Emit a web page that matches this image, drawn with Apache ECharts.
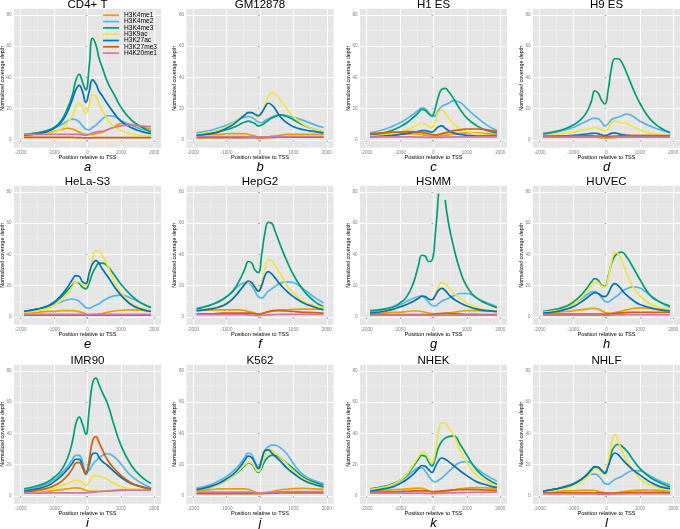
<!DOCTYPE html>
<html><head><meta charset="utf-8">
<script src="https://cdn.jsdelivr.net/npm/echarts@6/dist/echarts.min.js"></script>
<style>html,body{margin:0;padding:0;background:#fff}#c{width:680px;height:529px}</style>
</head><body><div id="c"></div>
<script>
// ---------- DATA ----------
const positions = [-1900,-1500,-1200,-1000,-800,-600,-450,-350,-250,-150,-50,50,150,250,350,450,600,800,1000,1300,1600,1900];
const marks = ['H3K4me1','H3K4me2','H3K4me3','H3K9ac','H3K27ac','H3K27me3','H4K20me1'];
const cellTitles = ['CD4+ T','GM12878','H1 ES','H9 ES','HeLa-S3','HepG2','HSMM','HUVEC','IMR90','K562','NHEK','NHLF'];
const panelLetters = ['a','b','c','d','e','f','g','h','i','j','k','l'];
const xTicks = [-2000,-1000,0,1000,2000];
const xMinorTicks = [-1500,-500,500,1500];
const yTicks = [0,20,40,60,80];
const yMinorTicks = [10,30,50,70];

// a: CD4+ T
const a_k4me1 = [2.5,3.5,4.5,5.5,6.5,7.5,7,6,5,4,3.5,3.5,3.5,4,4.5,5,6.5,8.5,10.5,10,8.5,7];
const a_k4me2 = [3.5,4.5,6,7.5,9.5,12,13.3,13,11.5,9,7,6.5,8,9.5,11.5,13.5,15.5,15,12.5,9.5,7,5.5];
const a_k4me3 = [3.5,4.5,6,8,12,20,29,38,42,37,32,47,65,61,52,46,37,29,21,13,8.5,5.3];
const a_k9ac  = [2.5,3,4,5,7,11,16,21,23.5,21,17,22,29,28,23,19,13,8.5,6,4,3,2.5];
const a_k27ac = [3,4,5.5,7.5,11,18,26,32,35,31,24,31,38.5,36,31,28,23,17,12,8,5.5,4];
const a_k27me3= [1.6,1.6,1.6,1.6,1.6,1.6,1.6,1.5,1.5,1.4,1.3,1.3,1.4,1.5,1.5,1.5,1.5,1.5,1.5,1.5,1.5,1.5];
const a_k20me1= [3.5,3.5,3.5,3.5,3.5,3.5,3.5,3.5,3.5,3.3,3,3.5,4.5,5,5.5,5.5,6.5,8,9,9.5,9,8.5];
// b: GM12878
const b_k4me1 = [3,3.5,3.5,4,4,4,4,3.5,3,2.5,2,2,2,2,2.5,2.5,3,3.5,3.5,3.5,3.5,3.5];
const b_k4me2 = [4.5,6,8,9.5,11.5,13.5,14.5,15,14.5,13,11.5,11,12.5,13.5,14.5,15.5,16,15.5,14.5,12.5,10,8];
const b_k4me3 = [3,4,5.5,6.5,8,10,11.5,12,11.5,10.5,9,9.5,11,12.5,14,15,16,15,13,9.5,7,5];
const b_k9ac  = [3.5,5,6.5,8.5,11,14,16.5,18,17.5,16,14.5,17,22,28,30.3,29.5,26,20,15,10,7,5];
const b_k27ac = [3,4,5.5,7.5,10,13.5,16,17.5,17.5,16.5,15.5,17.5,21,23.5,22.5,20,15,11,8.5,6.5,5.5,4.5];
const b_k27me3= [1.5,1.5,1.5,1.5,1.5,1.5,1.5,1.5,1.5,1.4,1.3,1.3,1.4,1.5,1.6,1.7,1.8,1.8,1.8,1.8,1.8,1.8];
const b_k20me1= [2.2,2.2,2.2,2.2,2.2,2.2,2.1,2,2,1.9,1.8,1.8,1.9,2,2,2.1,2.1,2.2,2.2,2.2,2.2,2.2];
// c: H1 ES
const c_k4me1 = [3.5,4,4,4,4,4,3.8,3.5,3,2.8,2.5,2.5,2.5,2.8,3,3.3,3.8,4.2,4.5,4.5,4,3.5];
const c_k4me2 = [4.5,6.5,9,11,13.5,16.5,19,20.5,20,17.5,15,15.5,19,21.5,22.5,23.5,25,24,20,14.5,9.5,6];
const c_k4me3 = [3,4.5,6.5,8.5,11,14.5,17.5,19.5,19,17,15.5,20,28,32.5,33,31,26.5,19.5,14,9,6,4.5];
const c_k9ac  = [2.5,3,4,5,6.5,8.5,10,10.7,10,8.5,8,12,18,19,17,14,10.5,7,5.5,4,3,2.5];
const c_k27ac = [2,2.5,3,3.5,4,5,5.5,6,6,5.5,5,6.5,8.5,9,7.5,6,4.5,3.5,3,2.5,2.5,2.5];
const c_k27me3= [4,4.5,5,5,5.3,5.3,5,4.8,4.5,4,3.5,3.3,3.5,4,4.5,5,6,6.5,7,7,6.5,5.5];
const c_k20me1= [1.9,1.9,1.9,1.9,1.9,1.9,1.8,1.8,1.7,1.7,1.6,1.6,1.7,1.7,1.8,1.8,1.9,1.9,1.9,1.9,1.9,1.9];
// d: H9 ES
const d_k4me1 = [2.5,2.5,2.5,2.5,2.5,2.5,2.3,2,1.8,1.5,1.3,1.3,1.5,1.7,2,2.3,2.6,2.8,2.8,2.7,2.6,2.5];
const d_k4me2 = [3.5,5,6.5,8,10,12,13.5,14,13.5,11.5,9,10.5,13,14,14.5,15.5,16.5,15,12,9,6.5,4.7];
const d_k4me3 = [4,5.5,7.5,9.5,12.5,17.5,25,31.5,30,25.5,23,32,46,52,52,50,43,32.5,23.5,13.5,8,4.7];
const d_k9ac  = [2.5,3.5,4.5,5,6,7,7.5,8,7.5,6.5,5.5,7.5,11,12,11.5,11,10.5,8.5,6.5,4.5,3.5,3];
const d_k27ac = [2,2.3,2.6,3,3.3,3.8,4.2,4.3,4,3.3,2.8,3.3,4.2,4.5,4,3.5,3,2.5,2.2,2,2,2];
const d_k27me3= [2.5,2.5,2.5,2.6,2.6,2.6,2.6,2.5,2.5,2.3,2.2,2.2,2.3,2.4,2.5,2.6,2.7,2.8,2.8,2.8,2.7,2.7];
const d_k20me1= [1.8,1.8,1.8,1.8,1.8,1.8,1.8,1.8,1.7,1.6,1.5,1.5,1.6,1.7,1.8,1.8,1.8,1.8,1.8,1.8,1.8,1.8];
// e: HeLa-S3
const e_k4me1 = [2.5,3,3.5,3.5,4,4,4,3.8,3.3,2.8,2,1.5,1.5,1.5,1.8,2.2,3,3.8,4.3,4.5,4.3,4];
const e_k4me2 = [3.5,5,6.5,8,9.5,11,11.5,11,10,8,6,5.5,6.5,7.5,8.5,10,12,13.5,14,12,9,6];
const e_k4me3 = [3.5,5,6.5,9,12.5,17,20.5,22.5,21.5,19,18,22,28,32,34.5,34.5,32.5,27,21,14,9,6];
const e_k9ac  = [3,4,5.5,7.5,10.5,15,19.5,22.5,22.5,20.5,20,27,37,42.5,42,39,33,23,15.5,9,6,4];
const e_k27ac = [3.5,5,7,9.5,13.5,19,24,26.5,26,22.5,21.5,28,34,36,34,30.5,26,19.5,14,8,5,3.5];
const e_k27me3= [1.1,1.1,1.1,1.1,1.1,1.1,1.1,1.1,1.1,1.1,1.1,1.1,1.1,1.1,1.1,1.1,1.1,1.1,1.1,1.1,1.1,1.1];
const e_k20me1= [1.7,1.7,1.7,1.7,1.7,1.7,1.7,1.7,1.6,1.6,1.5,1.5,1.6,1.6,1.7,1.7,1.7,1.7,1.7,1.7,1.7,1.7];
// f: HepG2
const f_k4me1 = [4,4.5,4.5,4.5,4.5,4.5,4,3.5,3,2.5,2,2.2,2.8,3.5,4,4.2,4.5,4.5,4.8,5,5,5];
const f_k4me2 = [5.5,7.5,10.5,13,16.5,20.5,22,22,20,16.5,13,12,14,16.5,18,19.5,21.5,22.5,22,18,13,9];
const f_k4me3 = [5,7.5,10,13,17,24,31,35.5,34.5,30,28.5,40,54,60.5,60,55,46.5,36,27,17,10.5,6.5];
const f_k9ac  = [4,5.5,7,9,12,17,21,22.5,21.5,19,17.5,22,31,36.5,36,33,28,20.5,15.5,10,7.5,6];
const f_k27ac = [4,5,6.5,8.5,12,17,21,23,22,19,16.5,20,26.5,29,27.5,25,21,16.5,13,9,6.5,4.5];
const f_k27me3= [2,2,2.3,2.5,2.5,2.5,2.5,2.5,2.3,2,1.7,2,2.7,3.3,3.7,4,4,3.8,3.5,3,2.8,2.5];
const f_k20me1= [1.5,1.5,1.5,1.5,1.5,1.5,1.4,1.3,1.2,1,0.9,1,1.2,1.3,1.4,1.5,1.6,1.6,1.6,1.6,1.6,1.6];
// g: HSMM (H3K4me3 peak above 80 is dropped, as in the original)
const g_k4me1 = [2,2.5,3,3,3.5,3.8,3.8,3.5,3,2.5,2,1.8,1.8,2,2.3,2.6,3,3.6,4,4,3.8,3.5];
const g_k4me2 = [3,4.5,6.5,8,10,12,13,13.3,12,9.5,7.5,7,8.5,10,11,12,13.5,15,15,12,9,6.5];
const g_k4me3 = [4,5,6.5,9,13,22,33,39.5,39,35.5,36,52,79,'-',75,60,45,29.5,19.5,12,8.5,6];
const g_k9ac  = [2.5,3.5,5,6,8,10,12,13.3,13,11.5,11,14,19.5,22,21,19,15.5,12,9,6,4.5,3.8];
const g_k27ac = [2.5,3.5,5,6.5,8,10,12,13.3,13,11.5,11,13.5,17,18.3,17,14.5,11.5,9,7,5,4,3.4];
const g_k27me3= [1.5,1.5,1.5,1.5,1.5,1.5,1.5,1.5,1.5,1.5,1.6,1.8,2.1,2.3,2.3,2.2,2,1.8,1.7,1.6,1.5,1.5];
const g_k20me1= [1.2,1.2,1.2,1.2,1.2,1.2,1.2,1.2,1.2,1.1,1,1,1.1,1.2,1.2,1.2,1.2,1.2,1.2,1.2,1.2,1.2];
// h: HUVEC
const h_k4me1 = [2.5,3,3.5,4,4.5,5,5.5,5.5,5,4,3,2.5,2.5,2.8,3.2,3.7,4.5,5.5,5.8,5.5,5,4.5];
const h_k4me2 = [3.4,4.5,6.5,8.5,11,14,16,16.2,15,12.5,10,9.5,11,12.5,14,16,18,19.3,18.5,14,9.5,6];
const h_k4me3 = [3.5,5,7,9.5,13,18,22.5,24.5,23.5,20.5,19.5,26,34,39,41,41.5,38.5,31.5,24,14,9.5,7];
const h_k9ac  = [3,4,5.5,8,11.5,16,20,22.5,22,20,19,25,35,41.5,40.5,36.5,28,19,13.5,8.5,6,5];
const h_k27ac = [2.5,3.5,5,6.5,9,12,14.5,15.5,15,13.5,13,15,19.5,21.3,20,17.5,14,10.5,8,6,4.5,3.8];
const h_k27me3= [1.8,1.8,1.8,1.8,1.8,1.8,1.8,1.8,1.8,1.8,1.8,1.8,2,2.2,2.4,2.6,2.8,3,3,3,3,3];
const h_k20me1= [1.2,1.2,1.2,1.2,1.2,1.2,1.2,1.2,1.2,1.1,1,1,1.1,1.2,1.3,1.3,1.4,1.5,1.5,1.5,1.5,1.5];
// i: IMR90
const i_k4me1 = [2,2.5,3,3.5,4,4.5,5,5.2,5,4.5,3.5,3,3,3,3,3,3.2,3.6,4,4.2,4,3.8];
const i_k4me2 = [3.5,5.5,8,10.5,14,19,23.5,26,26,22,16,16.5,20,22.5,24.5,26,27,25,20.5,13,8.5,5.3];
const i_k4me3 = [4.5,6.5,9,12,16,24,35,46,50.5,46,39.5,55,72,75.5,71,66,59,45,32.5,20,12.5,8];
const i_k9ac  = [2,3,4,5,6.5,8,9.5,10,9.8,8.5,6.5,9,12.5,13,12.5,12,10.5,8,6,4.5,4,3.5];
const i_k27ac = [3,4.5,6.5,9,12.5,17,21,23.5,23.5,19,14,20,27,27.5,24.5,22,19.5,15.5,12,8,6,4.5];
const i_k27me3= [2.5,3.5,5,6.5,9,13,17.5,21,21.5,18,14.5,23,35,38,34,29.5,23,17.5,13.2,8.5,6,4];
const i_k20me1= [1.8,1.8,1.9,2,2,2,2,2,2,2,2,2.1,2.3,2.5,2.7,2.9,3.1,3.4,3.6,3.7,3.7,3.6];
// j: K562
const j_k4me1 = [3.5,4,4.5,4.5,4.5,4.5,4.5,4.2,3.5,2.5,1.8,1.8,2,2.3,2.7,3.2,3.8,4.3,4.7,4.8,4.5,4.2];
const j_k4me2 = [5,7,10,12.5,16,20.5,25,27.5,26.5,22,18.5,24,29.5,31.5,32.5,32.5,31,27,20.7,13.5,10,7.9];
const j_k4me3 = [4,5.5,8,10,13,16.5,19.5,21,20.5,17.5,15,18,22.5,25,26,26,24.5,21,17.5,12,9,6.8];
const j_k9ac  = [4,5.5,8,10,13,17,20,21.5,21,18,15.5,20,26.5,30,29.5,27.5,25,20.5,16,11,8,6];
const j_k27ac = [4,6,8.5,11,14,18.5,23,25.5,24.5,21,17.5,23,29,29.5,27.5,25.5,22.5,18,14.5,10,7.5,5.8];
const j_k27me3= [1.4,1.4,1.4,1.4,1.4,1.4,1.4,1.4,1.4,1.4,1.4,1.5,1.6,1.7,1.8,1.8,1.9,1.9,1.9,1.9,1.9,1.9];
const j_k20me1= [2.5,2.5,2.5,2.5,2.5,2.5,2.5,2.5,2.3,2,1.8,1.8,2,2.2,2.4,2.5,2.6,2.7,2.7,2.7,2.7,2.7];
// k: NHEK
const k_k4me1 = [3,3.5,4,4.2,4.5,4.8,5,4.8,4.2,3.3,2.5,2,2,2.3,2.7,3.2,3.8,4.5,5,5.3,5.2,5];
const k_k4me2 = [4,5.5,7.5,9.5,12.5,16,18,18,16,13,10,9,10,11.5,13.5,15.5,18.5,21.5,22,17.5,13,9.5];
const k_k4me3 = [4.5,6,8,10,13.5,19,23.5,26,25.5,22,19,24,31,35,37,38,38.5,33,26,16.5,11,7.5];
const k_k9ac  = [4,5.5,7.5,10,14,20,25,28,27.5,24,21,28,41,47,46.5,44,39,29,21.5,13,9,6];
const k_k27ac = [3,4.5,6,8,10.5,14,17.5,19.5,19,17,15,18.5,22.5,24.3,23.5,22,19.5,16,13,9,7,5.3];
const k_k27me3= [2.5,2.5,2.6,2.8,3,3.2,3.3,3.3,3.2,3,2.8,2.8,3,3.2,3.4,3.6,3.8,4,4.1,4,3.8,3.6];
const k_k20me1= [1.8,1.8,1.8,1.8,1.8,1.8,1.8,1.8,1.7,1.6,1.5,1.5,1.6,1.7,1.8,1.9,2,2.1,2.2,2.3,2.4,2.4];
// l: NHLF
const l_k4me1 = [2.5,3,3.2,3.4,3.5,3.6,3.6,3.5,3,2.5,1.8,1.5,1.6,1.8,2.2,2.6,3,3.4,3.7,3.8,3.6,3.4];
const l_k4me2 = [3,4.5,6.5,8,10,12.5,14,14,13,10.5,8,7.5,9,10.5,11.5,12.5,14.5,16.3,16,13,9.5,7.2];
const l_k4me3 = [3,4.5,6,7.5,10,13,16.5,18.5,18,16,15,20,28,32,33,32,29,23,17.5,12,8.5,5.8];
const l_k9ac  = [2.5,3.5,5,6.5,8.5,11.5,15,17.5,17,15,14,22,33,39.5,35,29.5,23,16.5,11,7,5,3.6];
const l_k27ac = [3,4.5,6,7.5,10,13.5,17,18.8,18.5,16.5,14.5,19,25,27.5,26.5,24,20.5,16.5,13.5,9,6,4.7];
const l_k27me3= [2,2,2,2,2,2,2,2,2,1.9,1.8,1.8,1.8,1.9,2,2,2.1,2.2,2.3,2.3,2.3,2.3];
const l_k20me1= [1.3,1.3,1.3,1.3,1.3,1.3,1.3,1.3,1.2,1.1,1,1,1.1,1.2,1.3,1.3,1.4,1.4,1.5,1.5,1.5,1.5];

const panelSeries = [
  [a_k4me1,a_k4me2,a_k4me3,a_k9ac,a_k27ac,a_k27me3,a_k20me1],
  [b_k4me1,b_k4me2,b_k4me3,b_k9ac,b_k27ac,b_k27me3,b_k20me1],
  [c_k4me1,c_k4me2,c_k4me3,c_k9ac,c_k27ac,c_k27me3,c_k20me1],
  [d_k4me1,d_k4me2,d_k4me3,d_k9ac,d_k27ac,d_k27me3,d_k20me1],
  [e_k4me1,e_k4me2,e_k4me3,e_k9ac,e_k27ac,e_k27me3,e_k20me1],
  [f_k4me1,f_k4me2,f_k4me3,f_k9ac,f_k27ac,f_k27me3,f_k20me1],
  [g_k4me1,g_k4me2,g_k4me3,g_k9ac,g_k27ac,g_k27me3,g_k20me1],
  [h_k4me1,h_k4me2,h_k4me3,h_k9ac,h_k27ac,h_k27me3,h_k20me1],
  [i_k4me1,i_k4me2,i_k4me3,i_k9ac,i_k27ac,i_k27me3,i_k20me1],
  [j_k4me1,j_k4me2,j_k4me3,j_k9ac,j_k27ac,j_k27me3,j_k20me1],
  [k_k4me1,k_k4me2,k_k4me3,k_k9ac,k_k27ac,k_k27me3,k_k20me1],
  [l_k4me1,l_k4me2,l_k4me3,l_k9ac,l_k27ac,l_k27me3,l_k20me1]
];

// ---------- STYLE / LAYOUT ----------
const markColors = ['#E69F00','#56B4E9','#009E73','#F0E442','#0072B2','#D55E00','#CC79A7'];
const FONT = '"Liberation Sans", Arial, Helvetica, sans-serif';
const colLeft = [14, 186.5, 360, 533];
const rowTop = [8.75, 185.75, 364.75];
const W = 147, H = 139;
const plain = v => String(v);

const grids = [], xAxes = [], yAxes = [], series = [], graphics = [];
panelSeries.forEach((vals, p) => {
  const r = Math.floor(p / 4), c = p % 4;
  const left = colLeft[c], top = rowTop[r];
  grids.push({left, top, width: W, height: H, show: true, backgroundColor: '#E5E5E5',
              borderWidth: 0, containLabel: false, outerBoundsMode: 'none'});
  xAxes.push({gridIndex: p, type: 'value', min: -2200, max: 2200,
    axisLine: {show: false},
    axisTick: {show: true, length: 2, customValues: xTicks, lineStyle: {color: '#7F7F7F', width: 0.6}},
    axisLabel: {customValues: xTicks, formatter: plain, fontSize: 4.6, color: '#7F7F7F', margin: 2, fontFamily: FONT},
    splitLine: {show: true, lineStyle: {color: '#FFFFFF', width: 0.9}},
    name: 'Position relative to TSS', nameLocation: 'middle', nameGap: 6.5, nameMoveOverlap: false,
    nameTextStyle: {fontSize: 5.6, color: '#000', fontFamily: FONT}, z: 1});
  xAxes.push({gridIndex: p, type: 'value', min: -2200, max: 2200,
    axisLine: {show: false}, axisLabel: {show: false},
    axisTick: {show: false, customValues: xMinorTicks},
    splitLine: {show: true, lineStyle: {color: '#F2F2F2', width: 0.5}}, z: 0});
  yAxes.push({gridIndex: p, type: 'value', min: -5, max: 84,
    axisLine: {show: false},
    axisTick: {show: true, length: 2, customValues: yTicks, lineStyle: {color: '#7F7F7F', width: 0.6}},
    axisLabel: {customValues: yTicks, formatter: plain, fontSize: 4.6, color: '#7F7F7F', margin: 2.5, fontFamily: FONT},
    splitLine: {show: true, lineStyle: {color: '#FFFFFF', width: 0.9}},
    name: 'Normalized coverage depth', nameLocation: 'middle', nameGap: 9, nameMoveOverlap: false,
    nameTextStyle: {fontSize: 5.3, color: '#000', fontFamily: FONT}, z: 1});
  yAxes.push({gridIndex: p, type: 'value', min: -5, max: 84,
    axisLine: {show: false}, axisLabel: {show: false},
    axisTick: {show: false, customValues: yMinorTicks},
    splitLine: {show: true, lineStyle: {color: '#F2F2F2', width: 0.5}}, z: 0});
  vals.forEach((v, m) => {
    series.push({type: 'line', name: marks[m], xAxisIndex: 2 * p, yAxisIndex: 2 * p,
      data: positions.map((x, i) => [x, v[i]]),
      showSymbol: false, symbol: 'none', smooth: 0.5,
      lineStyle: {color: markColors[m], width: 1.7}, itemStyle: {color: markColors[m]},
      emphasis: {disabled: true}, silent: true, z: 3});
  });
  graphics.push({type: 'text', x: left + W / 2, y: top - 3.5, silent: true,
    style: {text: cellTitles[p], fontSize: 11.5, fontFamily: FONT, fill: '#000',
            textAlign: 'center', textVerticalAlign: 'middle'}});
  graphics.push({type: 'text', x: left + W / 2, y: top + H + 20, silent: true,
    style: {text: panelLetters[p], fontSize: 13, fontStyle: 'italic', fontFamily: FONT, fill: '#000',
            textAlign: 'center', textVerticalAlign: 'middle'}});
});

const chart = echarts.init(document.getElementById('c'), null, {renderer: 'canvas'});
chart.setOption({
  animation: false,
  backgroundColor: '#FFFFFF',
  grid: grids, xAxis: xAxes, yAxis: yAxes, series,
  legend: {show: true, data: marks, orient: 'vertical', left: 103, top: 11.8,
    itemWidth: 16, itemHeight: 1.7, itemGap: -0.7, icon: 'rect', selectedMode: false, padding: 0,
    textStyle: {fontSize: 6.6, color: '#000', fontFamily: FONT, lineHeight: 6.3}},
  graphic: graphics
});
</script>
</body></html>
